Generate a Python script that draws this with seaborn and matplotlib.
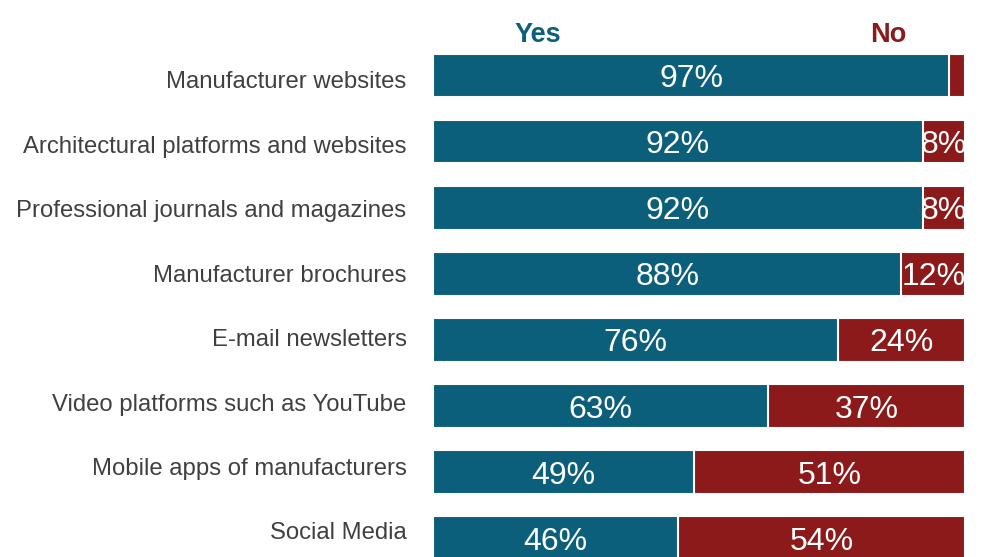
import matplotlib
matplotlib.use("Agg")
import matplotlib.pyplot as plt
import matplotlib.transforms as mtransforms
import pandas as pd
import seaborn as sns

# Survey data (share of respondents, %)
sources = [
    "Manufacturer websites",
    "Architectural platforms and websites",
    "Professional journals and magazines",
    "Manufacturer brochures",
    "E-mail newsletters",
    "Video platforms such as YouTube",
    "Mobile apps of manufacturers",
    "Social Media",
]
yes = [97, 92, 92, 88, 76, 63, 49, 46]
no = [3, 8, 8, 12, 24, 37, 51, 54]

teal = "#0b5f7b"
red = "#8c1a1a"

df = pd.DataFrame({"source": sources, "yes": yes, "no": no})
df["total"] = df["yes"] + df["no"]

sns.set_theme(style="white")
plt.rcParams["font.family"] = ["Liberation Sans", "DejaVu Sans"]

fig = plt.figure(figsize=(9.84, 5.57), dpi=100)
ax = fig.add_axes([0.44, 0.0, 0.541, 1.0])

# red full bar underneath, teal "yes" part on top
sns.barplot(data=df, x="total", y="source", color=red, width=0.66,
            edgecolor="white", linewidth=1.5, saturation=1, ax=ax)
sns.barplot(data=df, x="yes", y="source", color=teal, width=0.66,
            edgecolor="white", linewidth=1.5, saturation=1, ax=ax)

lab_size = 23
for i, row in df.iterrows():
    ax.annotate(f"{row['yes']}%", (row["yes"] / 2, i), xytext=(0, -0.36 * lab_size),
                textcoords="offset points", ha="center", va="baseline",
                color="white", fontsize=lab_size)
    if row["no"] >= 5:
        ax.annotate(f"{row['no']}%", (row["yes"] + row["no"] / 2, i),
                    xytext=(0, -0.36 * lab_size), textcoords="offset points",
                    ha="center", va="baseline", color="white", fontsize=lab_size)

ax.text(19.7, -0.62, "Yes", ha="center", va="center", color=teal,
        fontsize=19.5, fontweight="bold")
ax.text(85.5, -0.62, "No", ha="center", va="center", color=red,
        fontsize=19.5, fontweight="bold")

ax.set_xlim(0, 100)
ax.set_ylim(7.284, -1.142)
ax.set_xlabel("")
ax.set_ylabel("")
ax.set_xticks([])
ax.tick_params(axis="y", length=0, pad=19, labelsize=17.2, labelcolor="#404040")
sns.despine(ax=ax, left=True, bottom=True)

# in the original the row labels sit on a slightly tighter spacing than the bars
for i, lab in enumerate(ax.get_yticklabels()):
    shift = (4.5 - 1.7 * i) / 100
    lab.set_transform(lab.get_transform()
                      + mtransforms.ScaledTranslation(0, -shift, fig.dpi_scale_trans))

fig.savefig("out.png", dpi=100)
